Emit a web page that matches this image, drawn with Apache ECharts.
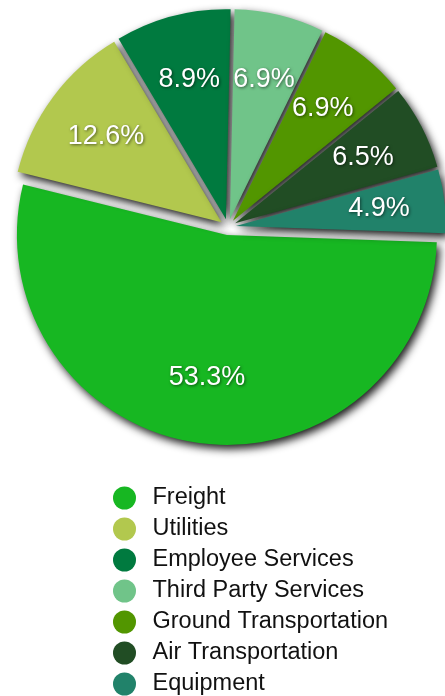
<!DOCTYPE html>
<html>
<head>
<meta charset="utf-8">
<script src="https://cdn.jsdelivr.net/npm/echarts@6/dist/echarts.min.js"></script>
<style>
html,body{margin:0;padding:0;background:#fff;}
#chart{width:445px;height:696px;}
</style>
</head>
<body>
<div id="chart"></div>
<script>
const categories = ['Freight', 'Utilities', 'Employee Services', 'Third Party Services', 'Ground Transportation', 'Air Transportation', 'Equipment'];
const values = [53.3, 12.6, 8.9, 6.9, 6.9, 6.5, 4.9];
const colors = ['#17b722', '#b2c84e', '#007a3f', '#70c489', '#529600', '#214d24', '#21826a'];

const chart = echarts.init(document.getElementById('chart'), null, {renderer: 'canvas'});
const mainData = categories.map((n, i) => ({name: n, value: values[i], selected: true, itemStyle: {color: colors[i]}}));
const labelData = categories.map((n, i) => ({name: n, value: values[i], selected: true}));

const center = [228, 227];
chart.setOption({
  animation: false,
  color: colors,
  legend: {
    orient: 'vertical',
    left: 108,
    top: 481,
    height: 300,
    icon: 'circle',
    itemWidth: 46,
    itemHeight: 23,
    itemGap: 7,
    data: categories,
    selectedMode: false,
    textStyle: {fontSize: 23.5, color: '#111', fontFamily: 'Liberation Sans, Arial, sans-serif'}
  },
  series: [
    {
      type: 'pie',
      center: center,
      radius: [0, 210],
      startAngle: -2,
      clockwise: true,
      selectedMode: 'multiple',
      selectedOffset: 8,
      avoidLabelOverlap: false,
      silent: true,
      label: {show: false},
      labelLine: {show: false},
      itemStyle: {
        shadowBlur: 9,
        shadowColor: 'rgba(0,0,0,0.9)',
        shadowOffsetX: 3,
        shadowOffsetY: 4
      },
      data: mainData
    },
    {
      type: 'pie',
      center: center,
      radius: [0, 282],
      startAngle: -2,
      clockwise: true,
      selectedMode: 'multiple',
      selectedOffset: 8,
      avoidLabelOverlap: false,
      silent: true,
      itemStyle: {color: 'rgba(0,0,0,0)'},
      label: {
        show: true,
        position: 'inside',
        fontSize: 27,
        color: '#fff',
        fontFamily: 'Liberation Sans, Arial, sans-serif',
        textShadowColor: 'rgba(0,0,0,0.55)',
        textShadowBlur: 3,
        textShadowOffsetX: 1,
        textShadowOffsetY: 1,
        formatter: p => p.value.toFixed(1) + '%'
      },
      labelLine: {show: false},
      data: labelData
    }
  ]
});
</script>
</body>
</html>
